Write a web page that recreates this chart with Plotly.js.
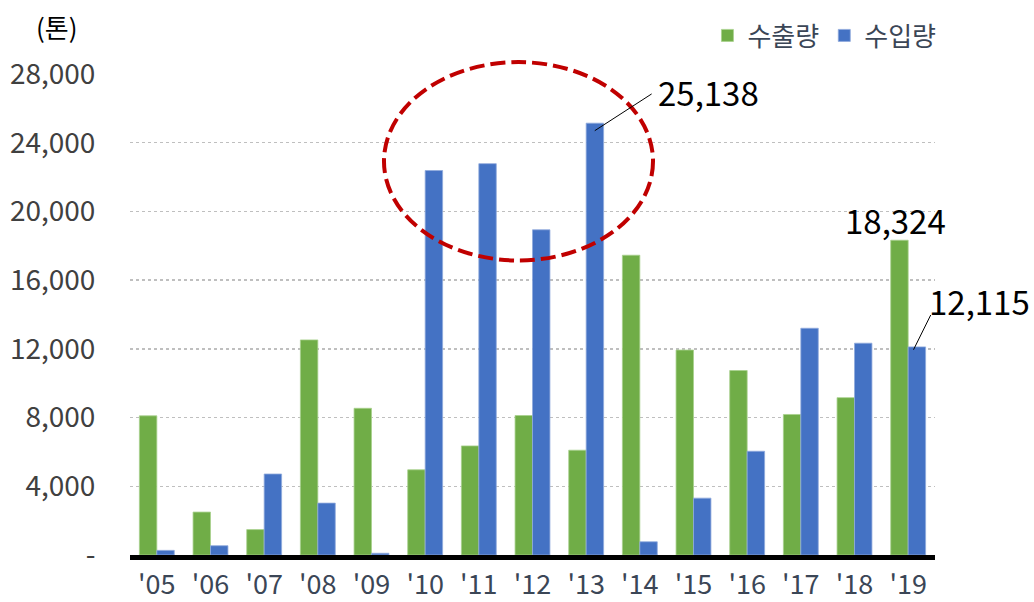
<!DOCTYPE html>
<html>
<head>
<meta charset="utf-8">
<script src="https://cdn.plot.ly/plotly-3.0.1.min.js"></script>
<style>html,body{margin:0;padding:0;background:#fff;}#chart{width:1034px;height:602px;}</style>
</head>
<body>
<div id="chart"></div>
<script>
const years = ["'05","'06","'07","'08","'09","'10","'11","'12","'13","'14","'15","'16","'17","'18","'19"];
const exportVals = [8100, 2500, 1480, 12520, 8540, 4960, 6350, 8120, 6100, 17450, 11930, 10740, 8180, 9160, 18324];
const importVals = [270, 540, 4715, 3020, 100, 22380, 22780, 18930, 25138, 770, 3310, 6040, 13200, 12330, 12115];
const seriesNames = ["수출량", "수입량"];
const yTickVals = [0, 4000, 8000, 12000, 16000, 20000, 24000, 28000];
const yTickText = ["-", "4,000", "8,000", "12,000", "16,000", "20,000", "24,000", "28,000"];
const unitLabel = "(톤)";

const FONT = "Noto Sans CJK KR, Noto Sans, sans-serif";
const fmt = v => v.toLocaleString('en-US');

const traces = [
  {type:'bar', name:seriesNames[0], x:years, y:exportVals,
   marker:{color:'#70AD47', line:{color:'#A8D08D', width:0.8}}, hoverinfo:'y'},
  {type:'bar', name:seriesNames[1], x:years, y:importVals,
   marker:{color:'#4472C4', line:{color:'#8FAADC', width:0.8}}, hoverinfo:'y'}
];

const layout = {
  width:1034, height:602,
  margin:{l:130, r:99, t:69, b:47},
  paper_bgcolor:'#fff', plot_bgcolor:'#fff',
  font:{family:FONT},
  barmode:'group', bargap:0.35, bargroupgap:0,
  showlegend:true,
  legend:{orientation:'h', x:1.008, xanchor:'right', y:1.08, yanchor:'middle',
          font:{size:26, color:'#3B4656', family:FONT}, itemwidth:30, traceorder:'normal'},
  xaxis:{type:'category', range:[-0.5, 14.5], showgrid:false, zeroline:false,
         showline:true, linecolor:'#000', linewidth:5,
         ticks:'outside', ticklen:2, tickcolor:'rgba(0,0,0,0)',
         tickfont:{size:27, color:'#3B4656', family:FONT}},
  yaxis:{range:[0, 28000], tickvals:yTickVals, ticktext:yTickText,
         showgrid:true, gridcolor:'#BFBFBF', gridwidth:1.5, griddash:'dot',
         zeroline:false, showline:false,
         ticks:'outside', ticklen:28, tickcolor:'rgba(0,0,0,0)',
         tickfont:{size:28, color:'#404040', family:FONT}},
  shapes:[
    {type:'circle', xref:'paper', yref:'paper', x0:0.3155, x1:0.6497, y0:0.6124, y1:1.0247,
     line:{color:'#C00000', width:4, dash:'15px,6px'}, layer:'above'},
    {type:'line', xref:'x', yref:'y', x0:8.16, y0:24700, x1:9.22, y1:26840,
     line:{color:'#000', width:1}},
    {type:'line', xref:'x', yref:'y', x0:14.10, y0:11950, x1:14.42, y1:13970,
     line:{color:'#000', width:1}}
  ],
  annotations:[
    {text:unitLabel, xref:'paper', yref:'paper', x:-0.0907, y:1.099, showarrow:false,
     xanchor:'center', yanchor:'middle', font:{size:26, color:'#000', family:FONT}},
    {text:fmt(importVals[8]), xref:'x', yref:'y', x:10.28, y:26955, showarrow:false,
     xanchor:'center', yanchor:'middle', font:{size:33, color:'#000', family:FONT}},
    {text:fmt(exportVals[14]), xref:'x', yref:'y', x:13.77, y:19510, showarrow:false,
     xanchor:'center', yanchor:'middle', font:{size:33, color:'#000', family:FONT}},
    {text:fmt(importVals[14]), xref:'paper', yref:'y', x:1.0547, y:14776, showarrow:false,
     xanchor:'center', yanchor:'middle', font:{size:33, color:'#000', family:FONT}}
  ]
};

Plotly.newPlot('chart', traces, layout, {displayModeBar:false, staticPlot:true});
</script>
</body>
</html>
